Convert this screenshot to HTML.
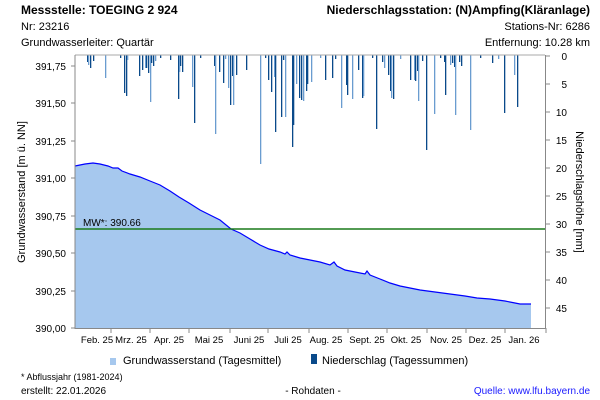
<!DOCTYPE html>
<html><head><meta charset="utf-8"><style>
body{margin:0;background:#fff;}
svg{display:block;font-family:"Liberation Sans",Arial,sans-serif;}
</style></head><body>
<svg width="600" height="400" xmlns="http://www.w3.org/2000/svg">
<rect width="600" height="400" fill="#fff"/>
<text x="21" y="14" font-size="12" font-weight="bold">Messstelle: TOEGING 2 924</text>
<text x="21" y="30" font-size="11">Nr: 23216</text>
<text x="21" y="46" font-size="11">Grundwasserleiter: Quartär</text>
<text x="590" y="14" font-size="12" font-weight="bold" text-anchor="end">Niederschlagsstation: (N)Ampfing(Kläranlage)</text>
<text x="590" y="30" font-size="11" text-anchor="end">Stations-Nr: 6286</text>
<text x="590" y="46" font-size="11" text-anchor="end">Entfernung: 10.28 km</text>

<polygon fill="#a6c8ee" points="75,328 75,166 85,164 93,163 100,164 108,166 113,168 118,168 122,171 130,174 140,177 150,181 160,185 170,191 179,197 189,203 200,210 210,215 220,220 231,229 240,233 250,239 260,245 269,249 280,252 285,254 287,252 290,255 300,258 310,260 320,262 330,265 334,262 337,266 345,270 355,272 365,274 367,271 370,275 380,279 390,283 400,286 410,288 420,290 435,292 450,294 465,296 477,298 490,299 505,301 515,303 520,304 531,304 531,328"/>
<polyline fill="none" stroke="#0000ff" stroke-width="1.2" points="75,166 85,164 93,163 100,164 108,166 113,168 118,168 122,171 130,174 140,177 150,181 160,185 170,191 179,197 189,203 200,210 210,215 220,220 231,229 240,233 250,239 260,245 269,249 280,252 285,254 287,252 290,255 300,258 310,260 320,262 330,265 334,262 337,266 345,270 355,272 365,274 367,271 370,275 380,279 390,283 400,286 410,288 420,290 435,292 450,294 465,296 477,298 490,299 505,301 515,303 520,304 531,304"/>
<line x1="75" y1="229" x2="545" y2="229" stroke="#1a7a1a" stroke-width="1.5"/>
<text x="83" y="226" font-size="10">MW*: 390.66</text>

<g id="bars"></g>
<line x1="75" y1="55" x2="545" y2="55" stroke="#aaa"/>
<line x1="75" y1="55" x2="75" y2="329" stroke="#888"/>
<line x1="75" y1="328.5" x2="546" y2="328.5" stroke="#888"/>
<line x1="545.5" y1="55" x2="545.5" y2="329" stroke="#888"/>
<g stroke="#888">
<line x1="71" y1="66" x2="75" y2="66"/><line x1="71" y1="103" x2="75" y2="103"/><line x1="71" y1="141" x2="75" y2="141"/><line x1="71" y1="178" x2="75" y2="178"/><line x1="71" y1="216" x2="75" y2="216"/><line x1="71" y1="253" x2="75" y2="253"/><line x1="71" y1="291" x2="75" y2="291"/><line x1="71" y1="328" x2="75" y2="328"/>
<line x1="545" y1="56" x2="550" y2="56"/><line x1="545" y1="84" x2="550" y2="84"/><line x1="545" y1="112" x2="550" y2="112"/><line x1="545" y1="140" x2="550" y2="140"/><line x1="545" y1="168" x2="550" y2="168"/><line x1="545" y1="196" x2="550" y2="196"/><line x1="545" y1="224" x2="550" y2="224"/><line x1="545" y1="252" x2="550" y2="252"/><line x1="545" y1="280" x2="550" y2="280"/><line x1="545" y1="308" x2="550" y2="308"/>
<line x1="111" y1="328" x2="111" y2="333"/><line x1="150" y1="328" x2="150" y2="333"/><line x1="189" y1="328" x2="189" y2="333"/><line x1="230" y1="328" x2="230" y2="333"/><line x1="268" y1="328" x2="268" y2="333"/><line x1="309" y1="328" x2="309" y2="333"/><line x1="348" y1="328" x2="348" y2="333"/><line x1="387" y1="328" x2="387" y2="333"/><line x1="427" y1="328" x2="427" y2="333"/><line x1="466" y1="328" x2="466" y2="333"/><line x1="505" y1="328" x2="505" y2="333"/><line x1="546" y1="328" x2="546" y2="333"/>
</g>
<g font-size="10" text-anchor="end">
<text x="66" y="70">391,75</text><text x="66" y="107">391,50</text><text x="66" y="145">391,25</text><text x="66" y="182">391,00</text><text x="66" y="220">390,75</text><text x="66" y="257">390,50</text><text x="66" y="295">390,25</text><text x="66" y="332">390,00</text>
</g>
<g font-size="10" text-anchor="end">
<text x="567" y="60">0</text><text x="567" y="88">5</text><text x="567" y="116">10</text><text x="567" y="144">15</text><text x="567" y="172">20</text><text x="567" y="200">25</text><text x="567" y="228">30</text><text x="567" y="256">35</text><text x="567" y="284">40</text><text x="567" y="312">45</text>
</g>
<g font-size="9.5" text-anchor="middle">
<text x="97" y="343">Feb. 25</text><text x="131" y="343">Mrz. 25</text><text x="169" y="343">Apr. 25</text><text x="209" y="343">Mai 25</text><text x="249" y="343">Juni 25</text><text x="288" y="343">Juli 25</text><text x="326" y="343">Aug. 25</text><text x="367" y="343">Sept. 25</text><text x="406" y="343">Okt. 25</text><text x="446" y="343">Nov. 25</text><text x="485" y="343">Dez. 25</text><text x="524" y="343">Jan. 26</text>
</g>
<text transform="translate(25,192) rotate(-90)" font-size="11" text-anchor="middle">Grundwasserstand [m ü. NN]</text>
<text transform="translate(576,192) rotate(90)" font-size="11" text-anchor="middle">Niederschlagshöhe [mm]</text>
<path d="M111,365 l2,-5 l2,5 z" fill="#a6c8ee"/><rect x="110" y="358" width="6" height="7" fill="#a6c8ee"/>
<text x="123" y="364" font-size="11">Grundwasserstand (Tagesmittel)</text>
<rect x="311" y="354" width="6" height="10" fill="#0a4a8a"/>
<text x="322" y="364" font-size="11">Niederschlag (Tagessummen)</text>
<text x="21" y="380" font-size="9">* Abflussjahr (1981-2024)</text>
<text x="21" y="394" font-size="10">erstellt:  22.01.2026</text>
<text x="313" y="394" font-size="10" text-anchor="middle">- Rohdaten -</text>
<text x="590" y="394" font-size="10" text-anchor="end" fill="#1a1aff">Quelle: www.lfu.bayern.de</text>
</svg>
<script>
var d=[[87,62],[88,65],[90,68],[93,61],[105,78],[124,93],[126,96],[127,60],[139,76],[142,70],[145,68],[146,68],[148,73],[150,102],[151,63],[153,66],[155,61],[170,60],[178,99],[179,72],[180,66],[182,72],[192,87],[194,123],[214,66],[215,134],[219,72],[223,83],[228,88],[230,105],[232,76],[233,105],[236,75],[246,70],[260,164],[268,80],[271,92],[274,77],[275,132],[281,117],[285,117],[292,147],[293,125],[296,84],[299,98],[301,100],[303,101],[306,91],[307,84],[311,82],[325,80],[332,78],[341,108],[346,85],[347,95],[352,99],[358,70],[362,98],[363,96],[376,129],[382,62],[384,68],[388,75],[390,91],[391,98],[393,99],[410,80],[414,80],[415,81],[417,71],[418,101],[422,61],[426,150],[434,114],[444,62],[445,95],[450,65],[452,63],[454,67],[455,115],[459,62],[461,66],[470,130],[492,63],[504,113],[514,75],[517,107],[200,58],[225,59],[265,58],[283,60],[320,58],[335,59],[372,58],[400,59],[440,58],[480,58],[498,59],[120,58],[160,58]];
var g=document.getElementById('bars'),s='';
d.forEach(function(b,i){s+='<rect x="'+b[0]+'" y="55" width="1.3" height="'+(b[1]-55)+'" fill="'+(i%3==1?'#6a9cd0':'#0a4a8a')+'"/>';});
g.innerHTML=s;
</script>
</body></html>
